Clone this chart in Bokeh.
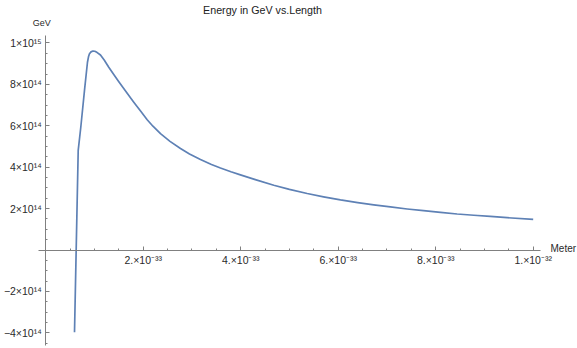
from bokeh.plotting import figure
from bokeh.models import Range1d, FixedTicker, Label
from bokeh.embed import file_html
from bokeh.resources import INLINE

# Curve (length in metres, energy in GeV)
length_m = [0.591e-33, 0.667e-33, 0.720e-33, 0.796e-33, 0.857e-33, 0.878e-33,
            0.898e-33, 0.930e-33, 0.970e-33, 1.007e-33, 1.050e-33, 1.124e-33,
            1.200e-33, 1.294e-33, 1.400e-33, 1.500e-33, 1.623e-33, 1.807e-33,
            1.950e-33, 2.082e-33, 2.200e-33, 2.355e-33, 2.550e-33, 2.765e-33,
            2.950e-33, 3.175e-33, 3.400e-33, 3.585e-33, 3.800e-33, 3.995e-33,
            4.300e-33, 4.679e-33, 5.000e-33, 5.364e-33, 5.700e-33, 6.047e-33,
            6.400e-33, 6.730e-33, 7.070e-33, 7.415e-33, 7.750e-33, 8.098e-33,
            8.440e-33, 8.782e-33, 9.120e-33, 9.467e-33, 1.000e-32]
energy_gev = [-3.97e14, 4.81e14, 5.93e14, 7.71e14, 9.07e14, 9.33e14,
              9.48e14, 9.57e14, 9.61e14, 9.60e14, 9.55e14, 9.42e14,
              9.18e14, 8.83e14, 8.47e14, 8.13e14, 7.73e14, 7.14e14,
              6.70e14, 6.29e14, 5.98e14, 5.62e14, 5.25e14, 4.90e14,
              4.64e14, 4.37e14, 4.13e14, 3.96e14, 3.78e14, 3.63e14,
              3.40e14, 3.13e14, 2.93e14, 2.73e14, 2.57e14, 2.42e14,
              2.29e14, 2.18e14, 2.08e14, 1.98e14, 1.90e14, 1.82e14,
              1.74e14, 1.68e14, 1.62e14, 1.56e14, 1.475e14]

x_tick_values = [2e-33, 4e-33, 6e-33, 8e-33, 1e-32]
x_tick_labels = ["2.×10⁻³³", "4.×10⁻³³", "6.×10⁻³³", "8.×10⁻³³", "1.×10⁻³²"]
x_minor_values = [0.5e-33, 1.0e-33, 1.5e-33, 2.5e-33, 3.0e-33, 3.5e-33, 4.5e-33,
                  5.0e-33, 5.5e-33, 6.5e-33, 7.0e-33, 7.5e-33, 8.5e-33, 9.0e-33,
                  9.5e-33]
y_tick_values = [-4e14, -2e14, 2e14, 4e14, 6e14, 8e14, 1e15]
y_tick_labels = ["−4×10¹⁴", "−2×10¹⁴", "2×10¹⁴", "4×10¹⁴", "6×10¹⁴", "8×10¹⁴", "1×10¹⁵"]
y_minor_values = [-4.5e14, -3.5e14, -3e14, -2.5e14, -1.5e14, -1e14, -0.5e14,
                  0.5e14, 1e14, 1.5e14, 2.5e14, 3e14, 3.5e14, 4.5e14, 5e14, 5.5e14,
                  6.5e14, 7e14, 7.5e14, 8.5e14, 9e14, 9.5e14]

x_axis_extent = (-0.148e-33, 10.15e-33)
y_axis_extent = (-4.61e14, 10.36e14)

title_text = "Energy in GeV vs.Length"
x_name = "Meter"
y_name = "GeV"

FONT = "Liberation Sans"
AXIS_COLOR = "#808080"
LABEL_COLOR = "#2a2a2a"

p = figure(width=577, height=348, output_backend="svg", toolbar_location=None,
           x_range=Range1d(-0.927e-33, 10.909e-33), y_range=Range1d(-4.758e14, 12.053e14),
           min_border=0)

p.grid.visible = False
p.outline_line_color = None
p.background_fill_color = "white"
p.border_fill_color = "white"

p.line(length_m, energy_gev, line_color="#5E81B5", line_width=1.7, line_join="round")

for ax, vals, labels, minor, ext in ((p.xaxis[0], x_tick_values, x_tick_labels, x_minor_values, x_axis_extent),
                                     (p.yaxis[0], y_tick_values, y_tick_labels, y_minor_values, y_axis_extent)):
    ax.fixed_location = 0
    ax.bounds = ext
    ax.ticker = FixedTicker(ticks=vals, minor_ticks=minor)
    ax.major_label_overrides = dict(zip(vals, labels))
    ax.axis_line_color = AXIS_COLOR
    ax.major_tick_line_color = AXIS_COLOR
    ax.minor_tick_line_color = AXIS_COLOR
    ax.major_tick_in = 4
    ax.major_tick_out = 0
    ax.minor_tick_in = 2
    ax.minor_tick_out = 0
    ax.major_label_text_font = FONT
    ax.major_label_text_font_size = "10.5px"
    ax.major_label_text_color = LABEL_COLOR
    ax.major_label_standoff = 4

p.add_layout(Label(x=4.447e-33, y=11.594e14, text=title_text,
                   text_align="center", text_baseline="middle",
                   text_font=FONT, text_font_size="10.7px", text_color="#222222"))
p.add_layout(Label(x=0, y=y_axis_extent[1], text=y_name, x_offset=-4, y_offset=12.5,
                   text_align="center", text_baseline="middle",
                   text_font=FONT, text_font_size="9px", text_color=LABEL_COLOR))
p.add_layout(Label(x=x_axis_extent[1], y=0, text=x_name, x_offset=10, y_offset=2,
                   text_align="left", text_baseline="middle",
                   text_font=FONT, text_font_size="10px", text_color=LABEL_COLOR))

open("out.html", "w").write(file_html(p, INLINE))
